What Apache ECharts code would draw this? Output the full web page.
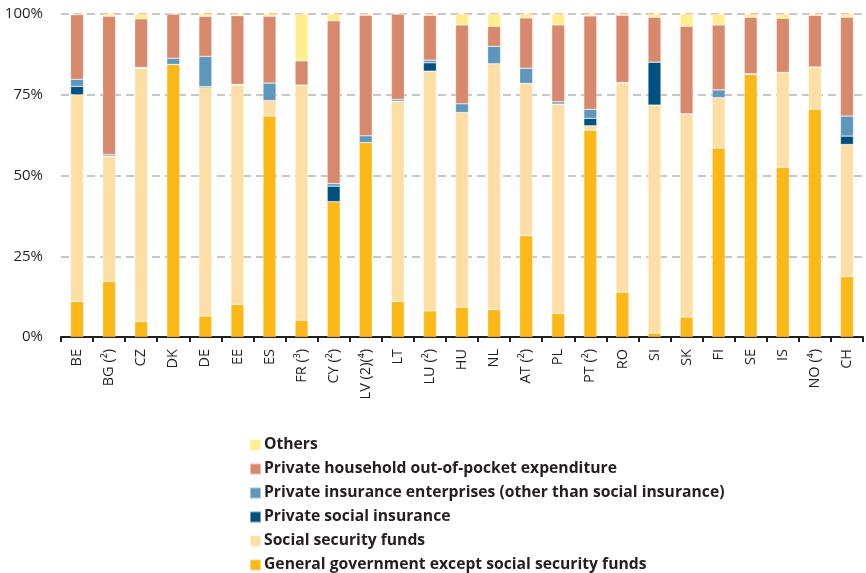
<!DOCTYPE html>
<html>
<head>
<meta charset="utf-8">
<script src="https://cdn.jsdelivr.net/npm/echarts@6/dist/echarts.min.js"></script>
<style>
html,body{margin:0;padding:0;background:#fff;}
#chart{width:866px;height:573px;}
</style>
</head>
<body>
<div id="chart"></div>
<script>
const categories = ['BE','BG (²)','CZ','DK','DE','EE','ES','FR (³)','CY (²)','LV (2)(⁴)','LT','LU (²)','HU','NL','AT (²)','PL','PT (²)','RO','SI','SK','FI','SE','IS','NO (⁴)','CH'];
const yTicks = ['0%','25%','50%','75%','100%'];

const generalGov   = [11.0,17.2,4.8,84.4,6.5,10.1,68.4,5.2,41.9,60.2,11.0,8.1,9.2,8.5,31.4,7.3,64.0,13.9,1.2,6.2,58.5,81.3,52.6,70.5,18.7];
const socialSec    = [64.0,38.8,78.4,0,70.7,67.9,4.8,72.8,0,0,62.0,74.2,60.3,76.1,47.1,64.8,1.4,64.7,70.6,62.9,15.6,0,29.3,13.1,40.9];
const privSocial   = [2.6,0,0,0,0.3,0,0,0,4.8,0,0,2.6,0,0,0,0,2.3,0,13.3,0,0,0,0,0,2.6];
const privInsur    = [2.2,0.5,0.3,1.9,9.4,0.2,5.4,0,0.8,2.1,0.6,0.8,2.7,5.4,4.7,0.7,2.8,0.2,0,0,2.4,0.2,0,0,6.2];
const outOfPocket  = [20.0,42.8,15.0,13.7,12.4,21.3,20.7,7.5,50.4,37.3,26.4,13.9,24.4,6.2,15.6,23.8,28.9,20.8,13.9,27.1,20.1,17.5,16.8,16.0,30.6];
const others       = [0.2,0.7,1.5,0,0.7,0.5,0.7,14.5,2.1,0.4,0,0.4,3.4,3.8,1.2,3.4,0.6,0.4,1.0,3.8,3.4,1.0,1.3,0.4,1.0];

const seriesNames = [
  'General government except social security funds',
  'Social security funds',
  'Private social insurance',
  'Private insurance enterprises (other than social insurance)',
  'Private household out-of-pocket expenditure',
  'Others'
];
const seriesData = [generalGov, socialSec, privSocial, privInsur, outOfPocket, others];
const colors = ['#FBB817','#FDDEA5','#00517F','#5E96BC','#D8896B','#FFEE8C'];

const chart = echarts.init(document.getElementById('chart'), null, {renderer:'canvas'});
chart.setOption({
  animation:false,
  grid:{left:61,right:3,top:14,bottom:236,containLabel:false},
  legend:{
    orient:'vertical',
    left:249,
    top:437,
    height:140,
    padding:0,
    itemWidth:11,
    itemHeight:11,
    itemGap:8,
    icon:'rect',
    data:seriesNames.slice().reverse(),
    textStyle:{fontFamily:'Open Sans',fontWeight:'bold',fontSize:15.7,color:'#231f20',padding:[0,0,0,-2]}
  },
  xAxis:{
    type:'category',
    data:categories,
    axisLine:{lineStyle:{color:'#231f20',width:2}},
    axisTick:{show:true,length:5,lineStyle:{color:'#231f20',width:2}},
    axisLabel:{rotate:90,fontFamily:'Open Sans',fontSize:14.5,color:'#231f20',margin:12}
  },
  yAxis:{
    type:'value',
    min:0,max:100,interval:25,
    axisLine:{show:false},
    axisTick:{show:false},
    splitLine:{lineStyle:{color:'#b5b5b5',type:[8,5],width:1.5}},
    axisLabel:{fontFamily:'Open Sans',fontSize:15,color:'#231f20',margin:18,
      formatter:function(v){return yTicks[Math.round(v/25)];}}
  },
  series:seriesData.map(function(d,i){
    return {
      name:seriesNames[i],
      type:'bar',
      stack:'total',
      barWidth:13,
      data:d,
      itemStyle:{color:colors[i],borderColor:'rgba(255,255,255,0.45)',borderWidth:0.6},
      emphasis:{disabled:true}
    };
  })
});
</script>
</body>
</html>
